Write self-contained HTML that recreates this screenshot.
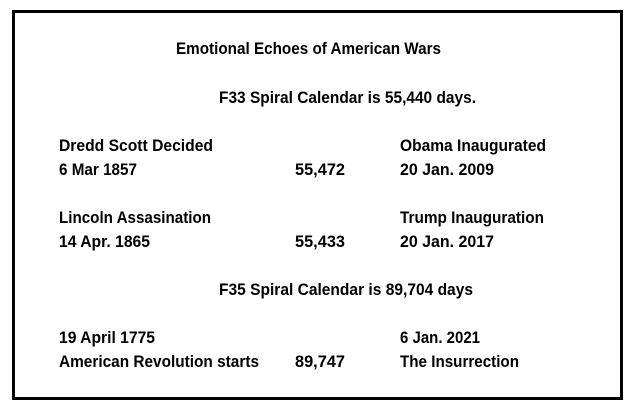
<!DOCTYPE html>
<html><head><style>
html,body{margin:0;padding:0;background:#fff;}
svg{display:block;}
text{font-family:"Liberation Sans",sans-serif;font-weight:bold;font-size:16.5px;fill:#000;}
</style></head><body>
<svg width="635" height="415" xmlns="http://www.w3.org/2000/svg">
<rect x="13.5" y="11.5" width="608" height="387" fill="#fff" stroke="#000" stroke-width="3"/>
<text x="176" y="54" textLength="265" lengthAdjust="spacingAndGlyphs">Emotional Echoes of American Wars</text>
<text x="219" y="103" textLength="257" lengthAdjust="spacingAndGlyphs">F33 Spiral Calendar is 55,440 days.</text>
<text x="59" y="151" textLength="154" lengthAdjust="spacingAndGlyphs">Dredd Scott Decided</text>
<text x="59" y="175" textLength="78" lengthAdjust="spacingAndGlyphs">6 Mar 1857</text>
<text x="295" y="175" textLength="50" lengthAdjust="spacingAndGlyphs">55,472</text>
<text x="400" y="151" textLength="146" lengthAdjust="spacingAndGlyphs">Obama Inaugurated</text>
<text x="400" y="175" textLength="94" lengthAdjust="spacingAndGlyphs">20 Jan. 2009</text>
<text x="59" y="223" textLength="152" lengthAdjust="spacingAndGlyphs">Lincoln Assasination</text>
<text x="59" y="247" textLength="91" lengthAdjust="spacingAndGlyphs">14 Apr. 1865</text>
<text x="295" y="247" textLength="50" lengthAdjust="spacingAndGlyphs">55,433</text>
<text x="400" y="223" textLength="144" lengthAdjust="spacingAndGlyphs">Trump Inauguration</text>
<text x="400" y="247" textLength="94" lengthAdjust="spacingAndGlyphs">20 Jan. 2017</text>
<text x="219" y="295" textLength="254" lengthAdjust="spacingAndGlyphs">F35 Spiral Calendar is 89,704 days</text>
<text x="59" y="343" textLength="96" lengthAdjust="spacingAndGlyphs">19 April 1775</text>
<text x="59" y="367" textLength="200" lengthAdjust="spacingAndGlyphs">American Revolution starts</text>
<text x="295" y="367" textLength="50" lengthAdjust="spacingAndGlyphs">89,747</text>
<text x="400" y="343" textLength="80" lengthAdjust="spacingAndGlyphs">6 Jan. 2021</text>
<text x="400" y="367" textLength="119" lengthAdjust="spacingAndGlyphs">The Insurrection</text>
</svg>
</body></html>
